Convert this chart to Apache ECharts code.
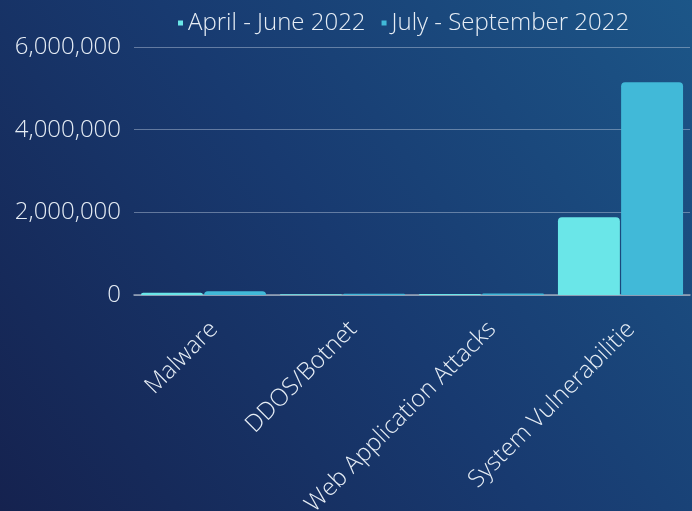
<!DOCTYPE html>
<html>
<head>
<meta charset="utf-8">
<script src="https://cdn.jsdelivr.net/npm/echarts@6/dist/echarts.min.js"></script>
<style>
  html, body { margin: 0; padding: 0; }
  #chart { width: 692px; height: 511px; }
</style>
</head>
<body>
<div id="chart"></div>
<script>
const categories = ['Malware', 'DDOS/Botnet', 'Web Application Attacks', 'System Vulnerabilitie']
const seriesNames = ['April - June 2022', 'July - September 2022']
const aprJun = [55000, 20000, 25000, 1880000]
const julSep = [90000, 30000, 35000, 5150000]
const colors = ['#6ae6e8', '#41b9d8']

const textColor = '#e6edf5'
const font = '"Open Sans", "Noto Sans", sans-serif'

const chart = echarts.init(document.getElementById('chart'))

chart.setOption({
  // 배경: 좌하단 어두운 남색 -> 우상단 푸른색
  backgroundColor: new echarts.graphic.LinearGradient(0, 1, 1, 0, [
    { offset: 0, color: '#15224f' },
    { offset: 0.5, color: '#183a70' },
    { offset: 1, color: '#1c5688' }
  ]),
  textStyle: { fontFamily: font },
  legend: {
    top: 6,
    left: 173,
    itemWidth: 5,
    itemHeight: 5,
    itemGap: 16,
    icon: 'rect',
    textStyle: { color: textColor, fontSize: 24, fontWeight: 300, fontFamily: font },
    data: seriesNames
  },
  grid: {
    left: 134,
    right: 2,
    top: 47,
    bottom: 216,
    containLabel: false,
    outerBoundsMode: 'none' // 라벨이 잘려도 그리드 크기 유지
  },
  xAxis: {
    type: 'category',
    data: categories,
    axisTick: { show: false },
    axisLine: { lineStyle: { color: '#9aa6ba', width: 1.5 } },
    axisLabel: {
      rotate: 45,
      interval: 0,
      margin: 20,
      verticalAlign: 'top',
      padding: [3, 0, 0, 0],
      color: textColor,
      fontSize: 24,
      fontWeight: 300,
      fontFamily: font
    }
  },
  yAxis: {
    type: 'value',
    min: 0,
    max: 6000000,
    interval: 2000000,
    axisLine: { show: false },
    axisTick: { show: false },
    splitLine: { lineStyle: { color: 'rgba(190,205,225,0.45)', width: 1 } },
    axisLabel: {
      margin: 13,
      color: textColor,
      fontSize: 24,
      fontWeight: 300,
      fontFamily: font,
      formatter: v => v.toLocaleString('en-US')
    }
  },
  series: [
    {
      name: seriesNames[0],
      type: 'bar',
      data: aprJun,
      barGap: '2%',
      barCategoryGap: '10%',
      itemStyle: { color: colors[0], borderRadius: [4, 4, 0, 0] }
    },
    {
      name: seriesNames[1],
      type: 'bar',
      data: julSep,
      itemStyle: { color: colors[1], borderRadius: [4, 4, 0, 0] }
    }
  ]
})
</script>
</body>
</html>
